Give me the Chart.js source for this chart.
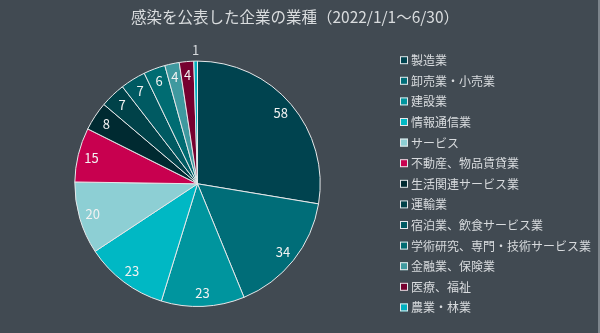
<!DOCTYPE html>
<html lang="ja">
<head>
    <meta charset="UTF-8">
    <title>感染を公表した企業の業種</title>
    <script src="https://cdn.jsdelivr.net/npm/chart.js"></script>
    <style>
        body {
            margin: 0;
            background: #414a52;
        }
        #wrap {
            position: relative;
            width: 600px;
            height: 333px;
        }
        #edge {
            position: absolute;
            right: 0;
            top: 0;
            width: 2px;
            height: 333px;
            background: #7d858c;
        }
    </style>
</head>
<body>

<div id="wrap"><canvas id="industryChart" width="600" height="333"></canvas><div id="edge"></div></div>

<script>
    const industries = ['製造業', '卸売業・小売業', '建設業', '情報通信業', 'サービス', '不動産、物品賃貸業',
        '生活関連サービス業', '運輸業', '宿泊業、飲食サービス業', '学術研究、専門・技術サービス業',
        '金融業、保険業', '医療、福祉', '農業・林業'];
    const companyCounts = [58, 34, 23, 23, 20, 15, 8, 7, 7, 6, 4, 4, 1];
    const sliceColors = ['#00434f', '#006d78', '#00959e', '#00b8c4', '#8dcfd4', '#c8004f',
        '#002a31', '#004249', '#005a62', '#006c72', '#3f999f', '#76002f', '#00b0bf'];

    const jpFont = "'Noto Sans CJK JP', 'Noto Sans', sans-serif";

    // value labels placed from each arc's own geometry
    const sliceLabels = {
        id: 'sliceLabels',
        afterDatasetsDraw(chart) {
            const ctx = chart.ctx;
            const arcs = chart.getDatasetMeta(0).data;
            ctx.save();
            ctx.font = '13px ' + jpFont;
            ctx.textAlign = 'center';
            ctx.textBaseline = 'middle';
            arcs.forEach((arc, i) => {
                const v = companyCounts[i];
                const mid = (arc.startAngle + arc.endAngle) / 2;
                const r = arc.outerRadius * (v < 2 ? 1.09 : 0.89);
                ctx.fillStyle = v < 2 ? '#d6d9dc' : '#f2f2f2';
                ctx.fillText(String(v), arc.x + Math.cos(mid) * r, arc.y + Math.sin(mid) * r);
            });
            ctx.restore();
        }
    };

    // legend column as a layout box on the right (the built-in one wraps into two columns here)
    const sideLegend = {
        id: 'sideLegend',
        beforeInit(chart) {
            const box = {
                position: 'right',
                fullSize: false,
                weight: 0,
                options: {},
                isHorizontal() { return false; },
                update(maxWidth, maxHeight) {
                    this.width = 195;
                    this.height = maxHeight;
                },
                draw() {
                    const ctx = chart.ctx;
                    const rowH = 20.6;
                    const x = this.left + 5;
                    let y = (this.top + this.bottom) / 2 - rowH * (industries.length - 1) / 2;
                    ctx.save();
                    ctx.font = '12px ' + jpFont;
                    ctx.textBaseline = 'middle';
                    industries.forEach((name, i) => {
                        ctx.fillStyle = sliceColors[i];
                        ctx.fillRect(x, y - 4, 8, 8);
                        ctx.strokeStyle = '#e6e8ea';
                        ctx.lineWidth = 1;
                        ctx.strokeRect(x + 0.5, y - 3.5, 7, 7);
                        ctx.fillStyle = '#d8dbde';
                        ctx.fillText(name, x + 11, y + 0.5);
                        y += rowH;
                    });
                    ctx.restore();
                }
            };
            Chart.layouts.addBox(chart, box);
        }
    };

    new Chart(document.getElementById('industryChart'), {
        type: 'pie',
        data: {
            labels: industries,
            datasets: [{
                data: companyCounts,
                backgroundColor: sliceColors,
                borderColor: '#e6e8ea',
                borderWidth: 1
            }]
        },
        options: {
            responsive: false,
            animation: false,
            layout: {
                padding: { top: 0, bottom: 26, left: 0, right: 10 }
            },
            plugins: {
                title: {
                    display: true,
                    text: '感染を公表した企業の業種（2022/1/1〜6/30）',
                    color: '#d9dcde',
                    font: { family: jpFont, size: 15.5, weight: 'normal' },
                    padding: { top: 8, bottom: 34 }
                },
                legend: { display: false },
                tooltip: { enabled: false }
            }
        },
        plugins: [sliceLabels, sideLegend]
    });
</script>

</body>
</html>
